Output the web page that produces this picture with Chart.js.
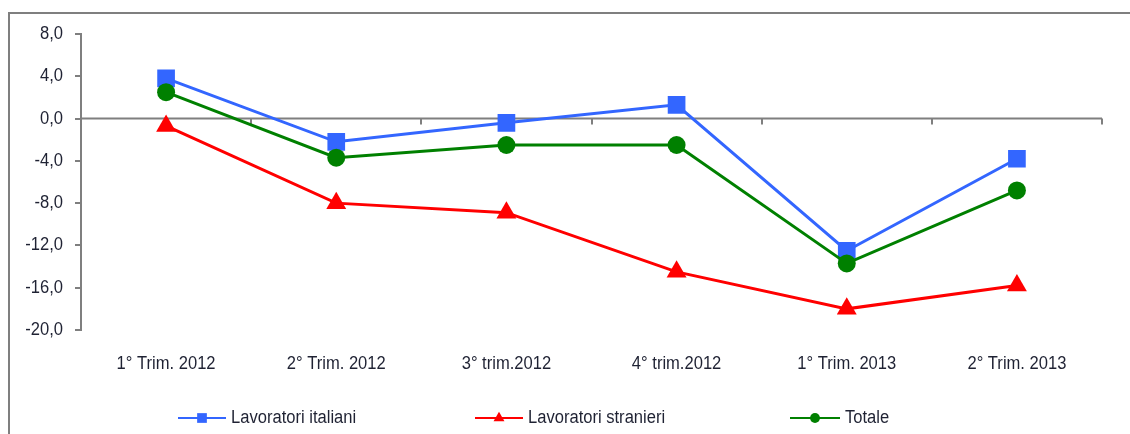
<!DOCTYPE html>
<html>
<head>
<meta charset="utf-8">
<script src="https://cdn.jsdelivr.net/npm/chart.js@4/dist/chart.umd.min.js"></script>
<style>
    html, body { margin: 0; padding: 0; background: #fff; }
    #wrap { width: 1130px; height: 434px; }
</style>
</head>
<body>
<div id="wrap"><canvas id="chart" width="1130" height="434"></canvas></div>
<script>
// quarters on the x axis
const quarters = ['1° Trim. 2012', '2° Trim. 2012', '3° trim.2012', '4° trim.2012', '1° Trim. 2013', '2° Trim. 2013'];

// percentage changes per group
const italiani = [3.8, -2.2, -0.4, 1.3, -12.5, -3.8];
const stranieri = [-0.7, -8.0, -8.9, -14.5, -18.0, -15.8];
const totale = [2.5, -3.7, -2.5, -2.5, -13.7, -6.8];

const yTicks = [8, 4, 0, -4, -8, -12, -16, -20];

const FONT = "18px 'Liberation Sans', Arial, sans-serif";
const SQUEEZE = 0.92;
const TEXT = '#1f2233';
const AXIS = '#7f7f7f';

// slightly narrowed Arial-like text
function narrowText(ctx, text, x, y, align) {
    ctx.save();
    ctx.font = FONT;
    ctx.fillStyle = TEXT;
    ctx.textBaseline = 'middle';
    ctx.textAlign = align;
    ctx.translate(x, y);
    ctx.scale(SQUEEZE, 1);
    ctx.fillText(text, 0, 0);
    ctx.restore();
}

function fmt(v) {
    return v.toFixed(1).replace('.', ',');
}

// outer frame, zero line with category ticks, tick labels, legend row
const decorations = {
    id: 'decorations',
    beforeDraw: function (chart) {
        const ctx = chart.ctx;
        ctx.save();
        ctx.strokeStyle = AXIS;
        ctx.lineWidth = 2;
        ctx.beginPath();
        ctx.moveTo(9, 434);
        ctx.lineTo(9, 13);
        ctx.lineTo(1130, 13);
        ctx.stroke();
        ctx.restore();
    },
    beforeDatasetsDraw: function (chart) {
        const ctx = chart.ctx;
        const x = chart.scales.x;
        const y = chart.scales.y;
        const area = chart.chartArea;
        const y0 = y.getPixelForValue(0);
        ctx.save();
        ctx.strokeStyle = AXIS;
        ctx.lineWidth = 2;
        ctx.beginPath();
        ctx.moveTo(area.left, y0);
        ctx.lineTo(area.right, y0);
        for (let i = 0; i <= quarters.length; i++) {
            const px = Math.round(x.getPixelForValue(i - 0.5));
            ctx.moveTo(px, y0);
            ctx.lineTo(px, y0 + 6);
        }
        ctx.stroke();
        ctx.restore();

        yTicks.forEach(function (v) {
            narrowText(ctx, fmt(v), area.left - 18, y.getPixelForValue(v), 'right');
        });
        quarters.forEach(function (q, i) {
            narrowText(ctx, q, x.getPixelForValue(i), area.bottom + 34, 'center');
        });
    },
    afterDraw: function (chart) {
        const ctx = chart.ctx;
        const items = [
            { x: 178, w: 48, text: 'Lavoratori italiani', ds: 0 },
            { x: 475, w: 48, text: 'Lavoratori stranieri', ds: 1 },
            { x: 790, w: 50, text: 'Totale', ds: 2 }
        ];
        const ly = 418;
        ctx.save();
        items.forEach(function (it) {
            const d = chart.data.datasets[it.ds];
            ctx.strokeStyle = d.borderColor;
            ctx.fillStyle = d.borderColor;
            ctx.lineWidth = 2;
            ctx.beginPath();
            ctx.moveTo(it.x, ly);
            ctx.lineTo(it.x + it.w, ly);
            ctx.stroke();
            Chart.helpers.drawPoint(ctx, {
                pointStyle: d.pointStyle,
                radius: d.pointRadius * 0.55,
                borderWidth: 0,
                rotation: 0
            }, it.x + it.w / 2, ly);
            narrowText(ctx, it.text, it.x + it.w + 5, ly, 'left');
        });
        ctx.restore();
    }
};

new Chart(document.getElementById('chart'), {
    type: 'line',
    data: {
        labels: quarters,
        datasets: [
            {
                label: 'Lavoratori italiani',
                data: italiani,
                borderColor: '#3366ff',
                backgroundColor: '#3366ff',
                borderWidth: 3,
                pointStyle: 'rect',
                pointRadius: 12.5,
                pointBorderWidth: 0,
                order: 1
            },
            {
                label: 'Lavoratori stranieri',
                data: stranieri,
                borderColor: '#ff0000',
                backgroundColor: '#ff0000',
                borderWidth: 3,
                pointStyle: 'triangle',
                pointRadius: 11.5,
                pointBorderWidth: 0,
                order: 2
            },
            {
                label: 'Totale',
                data: totale,
                borderColor: '#008000',
                backgroundColor: '#008000',
                borderWidth: 3,
                pointStyle: 'circle',
                pointRadius: 9,
                pointBorderWidth: 0,
                order: 0
            }
        ]
    },
    options: {
        responsive: false,
        animation: false,
        layout: { padding: { left: 0, right: 28, top: 34, bottom: 0 } },
        plugins: {
            legend: { display: false },
            tooltip: { enabled: false }
        },
        scales: {
            x: {
                offset: true,
                grid: { display: false, drawTicks: false, tickLength: 0 },
                border: { display: false },
                ticks: { display: false },
                afterFit: function (scale) { scale.height = 104; }
            },
            y: {
                min: -20,
                max: 8,
                afterBuildTicks: function (scale) {
                    scale.ticks = yTicks.map(v => ({ value: v }));
                },
                grid: {
                    drawOnChartArea: false,
                    color: AXIS,
                    lineWidth: 2,
                    tickLength: 6
                },
                border: { display: true, color: AXIS, width: 2 },
                ticks: { display: false },
                afterFit: function (scale) { scale.width = 81; }
            }
        }
    },
    plugins: [decorations]
});
</script>
</body>
</html>
